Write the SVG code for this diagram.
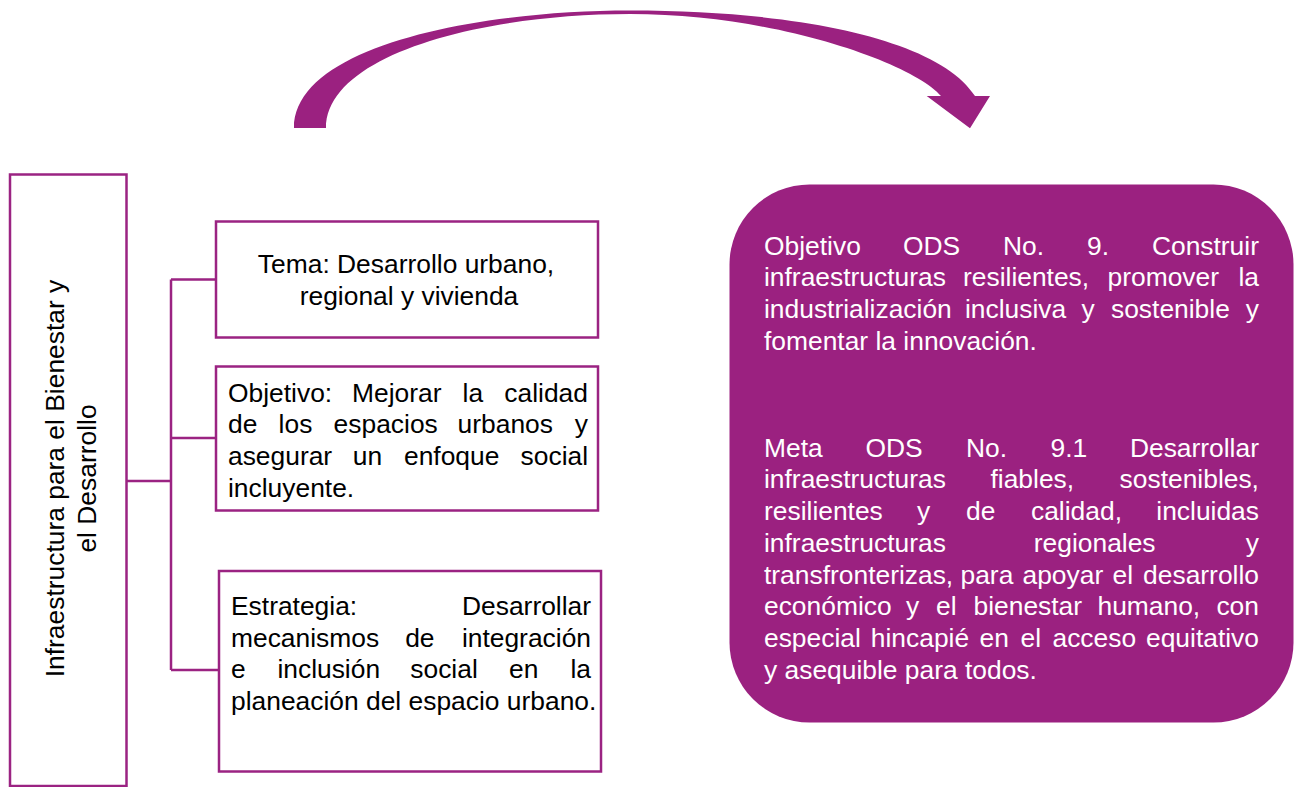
<svg xmlns="http://www.w3.org/2000/svg" width="1296" height="787" viewBox="0 0 1296 787">
<style>
.box{fill:#ffffff;stroke:#9B2382;stroke-width:2.5}
.conn{fill:none;stroke:#9B2382;stroke-width:2.5}
.t{font-family:"Liberation Sans",Arial,sans-serif;font-size:26.4px;fill:#000000}
.w{fill:#ffffff}
</style>
<rect width="1296" height="787" fill="#ffffff"/>
<g id="connectors">
<path class="conn" d="M127,481 H171 M171,279.5 V670 M171,279.5 H216 M171,438 H216 M171,670 H219"/>
<path id="curved-arrow" fill="#9B2180" d="M294,128 C294,45 480,10.5 630,10.5 C800,10.5 940,40 975,96 L990,96 L970,128.3 L926.7,96 L941,96 C915,65 780,14 630,14 C480,14 326,55 326,128 Z"/>
</g>
<g id="node-infraestructura">
<rect class="box" x="10" y="174.5" width="116.5" height="611.5"/>
<g transform="translate(63.5,478.5) rotate(-90)">
<text class="t" text-anchor="middle" x="0" y="0">Infraestructura para el Bienestar y</text>
<text class="t" text-anchor="middle" x="0" y="32">el Desarrollo</text>
</g>
</g>
<g id="node-tema">
<rect class="box" x="216" y="221.5" width="382" height="116"/>
<text class="t" text-anchor="middle" x="406" y="273">Tema: Desarrollo urbano,</text>
<text class="t" text-anchor="middle" x="409" y="304.7">regional y vivienda</text>
</g>
<g id="node-objetivo">
<rect class="box" x="216" y="366.5" width="382" height="144"/>
<text class="t" y="401.5"><tspan x="228">Objetivo:</tspan><tspan x="352">Mejorar</tspan><tspan x="462.6">la</tspan><tspan x="504.3">calidad</tspan></text>
<text class="t" y="433.2"><tspan x="228">de</tspan><tspan x="278.6">los</tspan><tspan x="333.6">espacios</tspan><tspan x="457.6">urbanos</tspan><tspan x="574.8">y</tspan></text>
<text class="t" y="464.9"><tspan x="228">asegurar</tspan><tspan x="352.8">un</tspan><tspan x="404">enfoque</tspan><tspan x="520.6">social</tspan></text>
<text class="t" x="228" y="496.6">incluyente.</text>
</g>
<g id="node-estrategia">
<rect class="box" x="219" y="571" width="382" height="200.5"/>
<text class="t" y="615"><tspan x="231">Estrategia:</tspan><tspan x="462">Desarrollar</tspan></text>
<text class="t" y="646.7"><tspan x="231">mecanismos</tspan><tspan x="405.2">de</tspan><tspan x="461.9">integración</tspan></text>
<text class="t" y="678.4"><tspan x="231">e</tspan><tspan x="277.4">inclusión</tspan><tspan x="410.3">social</tspan><tspan x="509">en</tspan><tspan x="570.5">la</tspan></text>
<text class="t" x="231" y="710.1">planeación del espacio urbano.</text>
</g>
<g id="node-ods">
<rect x="729.5" y="184.5" width="564" height="538" rx="80" ry="80" fill="#9B2180"/>
<text class="t w" y="254.5"><tspan x="764">Objetivo</tspan><tspan x="903">ODS</tspan><tspan x="1003">No.</tspan><tspan x="1087">9.</tspan><tspan x="1151.9">Construir</tspan></text>
<text class="t w" y="286.2"><tspan x="764">infraestructuras</tspan><tspan x="963">resilientes,</tspan><tspan x="1107.5">promover</tspan><tspan x="1238.5">la</tspan></text>
<text class="t w" y="317.9"><tspan x="764">industrialización</tspan><tspan x="965">inclusiva</tspan><tspan x="1081.5">y</tspan><tspan x="1111">sostenible</tspan><tspan x="1245.8">y</tspan></text>
<text class="t w" x="764" y="349.6">fomentar la innovación.</text>
<text class="t w" y="456.7"><tspan x="764">Meta</tspan><tspan x="865.5">ODS</tspan><tspan x="966">No.</tspan><tspan x="1050.5">9.1</tspan><tspan x="1129.9">Desarrollar</tspan></text>
<text class="t w" y="488.4"><tspan x="764">infraestructuras</tspan><tspan x="990.5">fiables,</tspan><tspan x="1119.6">sostenibles,</tspan></text>
<text class="t w" y="520.1"><tspan x="764">resilientes</tspan><tspan x="917">y</tspan><tspan x="966">de</tspan><tspan x="1031">calidad,</tspan><tspan x="1156.3">incluidas</tspan></text>
<text class="t w" y="551.8"><tspan x="764">infraestructuras</tspan><tspan x="1033.8">regionales</tspan><tspan x="1245.8">y</tspan></text>
<text class="t w" y="583.5"><tspan x="764">transfronterizas,</tspan><tspan x="960.5">para</tspan><tspan x="1022.5">apoyar</tspan><tspan x="1112.5">el</tspan><tspan x="1143.1">desarrollo</tspan></text>
<text class="t w" y="615.2"><tspan x="764">económico</tspan><tspan x="906">y</tspan><tspan x="936">el</tspan><tspan x="973.5">bienestar</tspan><tspan x="1097.5">humano,</tspan><tspan x="1216.4">con</tspan></text>
<text class="t w" y="646.9"><tspan x="764">especial</tspan><tspan x="870.8">hincapié</tspan><tspan x="979.5">en</tspan><tspan x="1020.5">el</tspan><tspan x="1052.5">acceso</tspan><tspan x="1146">equitativo</tspan></text>
<text class="t w" x="764" y="678.6">y asequible para todos.</text>
</g>
</svg>
